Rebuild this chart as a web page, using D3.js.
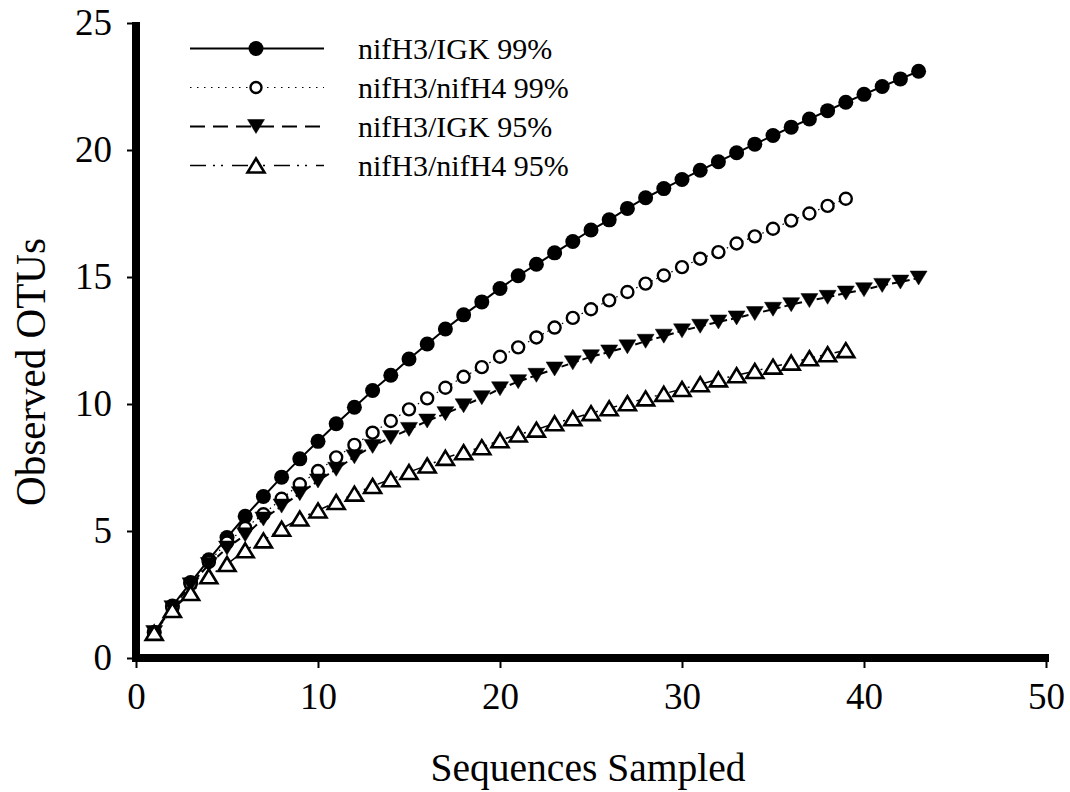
<!DOCTYPE html>
<html>
<head>
<meta charset="utf-8">
<script src="https://cdn.jsdelivr.net/npm/d3@7"></script>
<style>
  body { margin: 0; background: #fff; }
  svg { display: block; font-family: "Liberation Serif", "Times New Roman", serif; }
</style>
</head>
<body>
<div id="chart"></div>
<script>
// x values: sequences sampled
let sampledLong = [1, 2, 3, 4, 5, 6, 7, 8, 9, 10, 11, 12, 13, 14, 15, 16, 17, 18, 19, 20, 21,
  22, 23, 24, 25, 26, 27, 28, 29, 30, 31, 32, 33, 34, 35, 36, 37, 38, 39, 40, 41, 42, 43];
let sampledShort = [1, 2, 3, 4, 5, 6, 7, 8, 9, 10, 11, 12, 13, 14, 15, 16, 17, 18, 19, 20, 21,
  22, 23, 24, 25, 26, 27, 28, 29, 30, 31, 32, 33, 34, 35, 36, 37, 38, 39];

// observed OTUs
let igk99 = [1.0, 2.05, 2.97, 3.87, 4.74, 5.58, 6.36, 7.12, 7.84, 8.53, 9.22, 9.87, 10.53, 11.13,
  11.77, 12.36, 12.95, 13.51, 14.02, 14.55, 15.05, 15.5, 15.95, 16.4, 16.85, 17.25, 17.7, 18.12,
  18.48, 18.84, 19.2, 19.54, 19.89, 20.23, 20.57, 20.9, 21.22, 21.55, 21.88, 22.19, 22.5, 22.8, 23.1];
let nifh4_99 = [1.0, 1.98, 2.92, 3.78, 4.55, 5.12, 5.66, 6.27, 6.84, 7.36, 7.9, 8.39, 8.87, 9.33,
  9.79, 10.22, 10.64, 11.07, 11.45, 11.86, 12.23, 12.62, 13.01, 13.39, 13.73, 14.08, 14.41, 14.74,
  15.06, 15.39, 15.72, 15.98, 16.32, 16.6, 16.9, 17.22, 17.5, 17.8, 18.08];
let igk95 = [1.0, 1.98, 2.88, 3.68, 4.33, 4.85, 5.47, 5.98, 6.47, 6.97, 7.43, 7.92, 8.33, 8.68,
  9.0, 9.33, 9.62, 9.93, 10.25, 10.6, 10.88, 11.13, 11.38, 11.62, 11.86, 12.05, 12.25, 12.47,
  12.67, 12.88, 13.06, 13.23, 13.39, 13.56, 13.73, 13.91, 14.07, 14.2, 14.37, 14.5, 14.67, 14.8, 14.96];
let nifh4_95 = [0.99, 1.89, 2.56, 3.22, 3.7, 4.24, 4.63, 5.09, 5.49, 5.81, 6.14, 6.47, 6.77, 7.04,
  7.32, 7.58, 7.88, 8.1, 8.3, 8.57, 8.8, 8.99, 9.24, 9.44, 9.64, 9.83, 10.03, 10.22, 10.4, 10.59,
  10.78, 10.97, 11.13, 11.3, 11.47, 11.63, 11.8, 11.96, 12.12];

let seriesNames = ["nifH3/IGK 99%", "nifH3/nifH4 99%", "nifH3/IGK 95%", "nifH3/nifH4 95%"];
let xTicks = [0, 10, 20, 30, 40, 50];
let yTicks = [0, 5, 10, 15, 20, 25];

let width = 1070, height = 792;

// dash = pattern between data points, legendDash = the longer pattern shown in the key
let series = [
  { name: seriesNames[0], xs: sampledLong, ys: igk99, marker: "circle", fill: "#000", dash: null, legendDash: null, lw: 2 },
  { name: seriesNames[1], xs: sampledShort, ys: nifh4_99, marker: "circle", fill: "#fff", dash: "1.5,4", legendDash: "1.5,5.5", lw: 1.2 },
  { name: seriesNames[2], xs: sampledLong, ys: igk95, marker: "down", fill: "#000", dash: "7,4", legendDash: "15,8", lw: 2 },
  { name: seriesNames[3], xs: sampledShort, ys: nifh4_95, marker: "up", fill: "#fff", dash: "14,5,2,5,2,6", legendDash: "16,7,2,6,2,9", lw: 1.5 }
];

let x = d3.scaleLinear().domain([0, 50]).range([136, 1046]);
let y = d3.scaleLinear().domain([0, 25]).range([658, 23]);

let svg = d3.select("#chart").append("svg")
  .attr("width", width)
  .attr("height", height);

svg.append("rect").attr("width", width).attr("height", height).attr("fill", "#fff");

// axes - ticks/labels from d3, the heavy black bars drawn on top
let yAxis = svg.append("g")
  .attr("transform", "translate(" + x(0) + ",0)")
  .call(d3.axisLeft(y).tickValues(yTicks).tickSize(9).tickSizeOuter(0).tickPadding(15));
let xAxis = svg.append("g")
  .attr("transform", "translate(0," + y(0) + ")")
  .call(d3.axisBottom(x).tickValues(xTicks).tickSize(10).tickSizeOuter(0).tickPadding(15));

[xAxis, yAxis].forEach(g => {
  g.select(".domain").remove();
  g.selectAll(".tick line").attr("stroke", "#000").attr("stroke-width", 2);
  g.selectAll(".tick text")
    .attr("fill", "#000")
    .attr("font-size", 37)
    .attr("font-family", "Liberation Serif, Times New Roman, serif");
});

svg.append("line")  // y bar
  .attr("x1", x(0)).attr("x2", x(0))
  .attr("y1", y(25) - 1).attr("y2", y(0) + 4)
  .attr("stroke", "#000").attr("stroke-width", 8);
svg.append("line")  // x bar
  .attr("x1", x(0) - 4).attr("x2", x(50) + 3)
  .attr("y1", y(0)).attr("y2", y(0))
  .attr("stroke", "#000").attr("stroke-width", 8);

// axis titles
svg.append("text")
  .attr("x", 588).attr("y", 781)
  .attr("text-anchor", "middle")
  .attr("font-size", 41)
  .attr("textLength", 315)
  .attr("lengthAdjust", "spacingAndGlyphs")
  .text("Sequences Sampled");

svg.append("text")
  .attr("transform", "translate(45,372) rotate(-90)")
  .attr("text-anchor", "middle")
  .attr("font-size", 42)
  .attr("textLength", 268)
  .attr("lengthAdjust", "spacingAndGlyphs")
  .text("Observed OTUs");

let markerPath = (type) => {
  let w = 17, h = 14;
  if (type === "down") return `M${-w / 2},${-h / 2}L${w / 2},${-h / 2}L0,${h / 2}Z`;
  return `M0,${-h / 2}L${w / 2},${h / 2}L${-w / 2},${h / 2}Z`;
};

let drawMarker = (sel, s, small) => {
  if (s.marker === "circle") {
    let filled = s.fill === "#000";
    sel.append("circle")
      .attr("r", filled ? 7.5 : (small ? 5.5 : 6))
      .attr("fill", s.fill)
      .attr("stroke", "#000")
      .attr("stroke-width", filled ? 0 : 2.4);
  } else {
    sel.append("path")
      .attr("d", markerPath(s.marker))
      .attr("fill", s.fill)
      .attr("stroke", "#000")
      .attr("stroke-width", s.fill === "#000" ? 0.5 : 2.6)
      .attr("stroke-linejoin", "miter");
  }
};

let line = d3.line().x(d => x(d[0])).y(d => y(d[1]));

series.forEach(s => {
  let pts = s.xs.map((v, i) => [v, s.ys[i]]);
  let g = svg.append("g").attr("class", "series");

  g.append("path")
    .attr("d", line(pts))
    .attr("fill", "none")
    .attr("stroke", "#000")
    .attr("stroke-width", s.lw)
    .attr("stroke-dasharray", s.dash);

  g.selectAll("g.pt")
    .data(pts).enter()
    .append("g")
      .attr("class", "pt")
      .attr("transform", d => "translate(" + x(d[0]) + "," + y(d[1]) + ")")
      .each(function () { drawMarker(d3.select(this), s); });
});

// legend
let legend = svg.append("g").attr("class", "legend");
series.forEach((s, i) => {
  let ly = 48.5 + i * 39;
  let row = legend.append("g").attr("transform", "translate(0," + ly + ")");
  row.append("line")
    .attr("x1", 190).attr("x2", 324)
    .attr("stroke", "#000")
    .attr("stroke-width", s.lw)
    .attr("stroke-dasharray", s.legendDash);
  drawMarker(row.append("g").attr("transform", "translate(256,0)"), s, true);
  row.append("text")
    .attr("x", 358).attr("y", 10)
    .attr("font-size", 30)
    .text(s.name);
});
</script>
</body>
</html>
